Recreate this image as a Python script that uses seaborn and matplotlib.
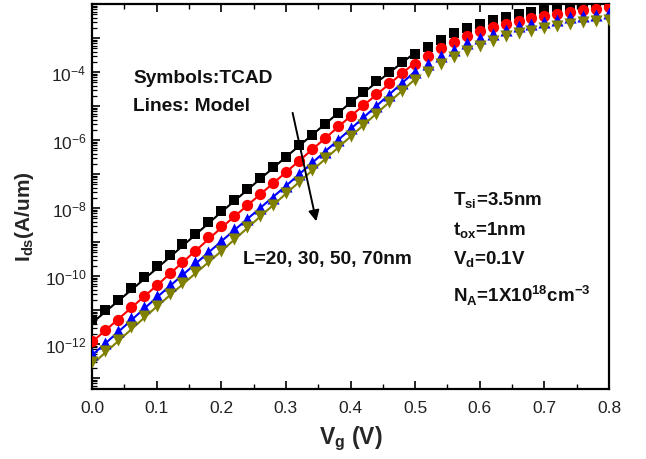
import numpy as np
import pandas as pd
import matplotlib
matplotlib.use("Agg")
import matplotlib.pyplot as plt
from matplotlib.ticker import FixedLocator, FuncFormatter, LogLocator, MultipleLocator
import seaborn as sns

# ---------------- data ----------------
vg_tcad = [0.00, 0.02, 0.04, 0.06, 0.08, 0.10, 0.12, 0.14, 0.16, 0.18,
           0.20, 0.22, 0.24, 0.26, 0.28, 0.30, 0.32, 0.34, 0.36, 0.38,
           0.40, 0.42, 0.44, 0.46, 0.48, 0.50, 0.52, 0.54, 0.56, 0.58,
           0.60, 0.62, 0.64, 0.66, 0.68, 0.70, 0.72, 0.74, 0.76, 0.78, 0.80]

# log10(Ids [A/um]) of the TCAD symbols
tcad_L20_log = [-11.29, -11.00, -10.70, -10.35, -10.04, -9.71, -9.38, -9.06, -8.75, -8.40,
                -8.08, -7.76, -7.44, -7.13, -6.80, -6.49, -6.16, -5.85, -5.53, -5.21,
                -4.89, -4.58, -4.27, -3.99, -3.72, -3.48, -3.25, -3.06, -2.86, -2.71,
                -2.59, -2.47, -2.39, -2.29, -2.23, -2.15, -2.10, -2.05, -2.02, -2.00, -1.98]
tcad_L30_log = [-11.90, -11.58, -11.29, -10.92, -10.60, -10.26, -9.91, -9.58, -9.25, -8.86,
                -8.54, -8.22, -7.91, -7.59, -7.26, -6.93, -6.61, -6.27, -5.95, -5.60,
                -5.28, -4.97, -4.65, -4.33, -4.04, -3.77, -3.52, -3.30, -3.11, -2.95,
                -2.80, -2.68, -2.59, -2.49, -2.41, -2.34, -2.29, -2.23, -2.18, -2.15, -2.10]
tcad_L50_log = [-12.29, -11.97, -11.60, -11.24, -10.92, -10.60, -10.26, -9.92, -9.60, -9.28,
                -8.96, -8.62, -8.32, -8.01, -7.69, -7.34, -7.00, -6.66, -6.34, -6.00,
                -5.66, -5.33, -5.00, -4.67, -4.33, -4.01, -3.76, -3.54, -3.34, -3.16,
                -3.01, -2.88, -2.75, -2.66, -2.59, -2.52, -2.46, -2.39, -2.34, -2.31, -2.26]
tcad_L70_log = [-12.54, -12.21, -11.87, -11.51, -11.17, -10.87, -10.53, -10.21, -9.89, -9.57,
                -9.25, -8.91, -8.57, -8.24, -7.91, -7.56, -7.22, -6.87, -6.54, -6.20,
                -5.88, -5.55, -5.22, -4.88, -4.55, -4.23, -3.99, -3.76, -3.57, -3.37,
                -3.23, -3.08, -2.95, -2.86, -2.78, -2.71, -2.65, -2.59, -2.54, -2.51, -2.46]

# model lines (log10 Ids), drawn only up to Vg = 0.5 V
vg_model = [0.0, 0.1, 0.2, 0.3, 0.4, 0.5]
model_L20_log = [-11.38, -9.78, -8.12, -6.50, -4.90, -3.43]
model_L30_log = [-11.94, -10.28, -8.58, -6.95, -5.30, -3.72]
model_L50_log = [-12.33, -10.63, -8.98, -7.35, -5.68, -3.98]
model_L70_log = [-12.60, -10.90, -9.27, -7.58, -5.90, -4.21]

series_names = ["L=20nm", "L=30nm", "L=50nm", "L=70nm"]
series_colors = ["#000000", "#ff0000", "#0000ff", "#808000"]
series_markers = ["s", "o", "^", "v"]
series_sizes = [58, 66, 76, 76]

x_ticks = [0.0, 0.1, 0.2, 0.3, 0.4, 0.5, 0.6, 0.7, 0.8]
y_label_exponents = [-12, -10, -8, -6, -4]

# ---------------- style ----------------
sns.set_style("ticks")
plt.rcParams["font.family"] = ["Liberation Sans", "DejaVu Sans"]
plt.rcParams["mathtext.fontset"] = "custom"
plt.rcParams["mathtext.rm"] = "Liberation Sans"
plt.rcParams["mathtext.bf"] = "Liberation Sans:bold"
plt.rcParams["axes.unicode_minus"] = True

fig = plt.figure(figsize=(6.46, 4.60), dpi=100)
ax = fig.add_axes([92 / 646, 1 - 390 / 460, (609 - 92) / 646, (390 - 5) / 460])

tcad_logs = [tcad_L20_log, tcad_L30_log, tcad_L50_log, tcad_L70_log]
model_logs = [model_L20_log, model_L30_log, model_L50_log, model_L70_log]

for name, col, mk, sz, tl, ml in zip(series_names, series_colors, series_markers,
                                     series_sizes, tcad_logs, model_logs):
    df_m = pd.DataFrame({"Vg": vg_model, "Ids": 10.0 ** np.array(ml)})
    sns.lineplot(data=df_m, x="Vg", y="Ids", color=col, lw=1.5, ax=ax, zorder=2)
    df_t = pd.DataFrame({"Vg": vg_tcad, "Ids": 10.0 ** np.array(tl)})
    sns.scatterplot(data=df_t, x="Vg", y="Ids", color=col, marker=mk, s=sz,
                    edgecolor=col, linewidth=0, ax=ax, zorder=3)

ax.set_yscale("log")
ax.set_xlim(0.0, 0.8)
ax.set_ylim(10 ** -13.32, 10 ** -2.0)

# x ticks
ax.xaxis.set_major_locator(FixedLocator(x_ticks))
ax.xaxis.set_minor_locator(MultipleLocator(0.05))
ax.xaxis.set_major_formatter(FuncFormatter(lambda v, p: f"{v:.1f}"))

# y ticks: every decade, labelled every second decade
ax.yaxis.set_major_locator(FixedLocator([10.0 ** e for e in range(-13, -1)]))
ax.yaxis.set_minor_locator(LogLocator(base=10, subs=np.arange(2, 10), numticks=50))


def yfmt(v, p):
    e = int(round(np.log10(v)))
    if e in y_label_exponents:
        return r"$\mathdefault{10^{%d}}$" % e
    return ""


ax.yaxis.set_major_formatter(FuncFormatter(yfmt))
ax.yaxis.set_minor_formatter(FuncFormatter(lambda v, p: ""))

ax.tick_params(axis="both", which="both", direction="in", colors="black",
               labelsize=12.5, labelcolor="#222222")
ax.tick_params(axis="x", which="major", length=6, width=1.2, top=True, pad=8)
ax.tick_params(axis="x", which="minor", length=3.5, width=1.0, top=True)
ax.tick_params(axis="y", which="major", length=6, width=1.2, right=False, pad=4)
ax.tick_params(axis="y", which="minor", length=3.5, width=0.9, right=False)

for sp in ax.spines.values():
    sp.set_visible(True)
    sp.set_linewidth(1.6)
    sp.set_color("black")

ax.set_xlabel(r"V$_{\mathdefault{g}}$ (V)", fontsize=16.5, fontweight="bold", labelpad=6)
ax.set_ylabel(r"I$_{\mathdefault{ds}}$(A/um)", fontsize=15, fontweight="bold")
ax.yaxis.set_label_coords(-0.108, 0.45)

# annotations
ax.text(0.0635, 10 ** -4.17, "Symbols:TCAD", fontsize=13.8, fontweight="bold",
        ha="left", va="center", color="#111111")
ax.text(0.0635, 10 ** -4.98, "Lines: Model", fontsize=13.8, fontweight="bold",
        ha="left", va="center", color="#111111")
ax.annotate("", xy=(0.348, 10 ** -8.47), xytext=(0.3095, 10 ** -5.12),
            arrowprops=dict(arrowstyle="-|>", color="black", lw=1.4, mutation_scale=16))
ax.text(0.2337, 10 ** -9.47, "L=20, 30, 50, 70nm", fontsize=13.8, fontweight="bold",
        ha="left", va="center", color="#111111")

ax.text(0.5586, 10 ** -7.75, r"T$_{\mathdefault{si}}$=3.5nm", fontsize=13.5,
        fontweight="bold", ha="left", va="center", color="#111111")
ax.text(0.5586, 10 ** -8.65, r"t$_{\mathdefault{ox}}$=1nm", fontsize=13.5,
        fontweight="bold", ha="left", va="center", color="#111111")
ax.text(0.5586, 10 ** -9.5, r"V$_{\mathdefault{d}}$=0.1V", fontsize=13.5,
        fontweight="bold", ha="left", va="center", color="#111111")
ax.text(0.5586, 10 ** -10.55,
        r"N$_{\mathdefault{A}}$=1X10$^{\mathdefault{18}}$cm$^{\mathdefault{-3}}$",
        fontsize=13.5, fontweight="bold", ha="left", va="center", color="#111111")

fig.savefig("out.png", dpi=100)
